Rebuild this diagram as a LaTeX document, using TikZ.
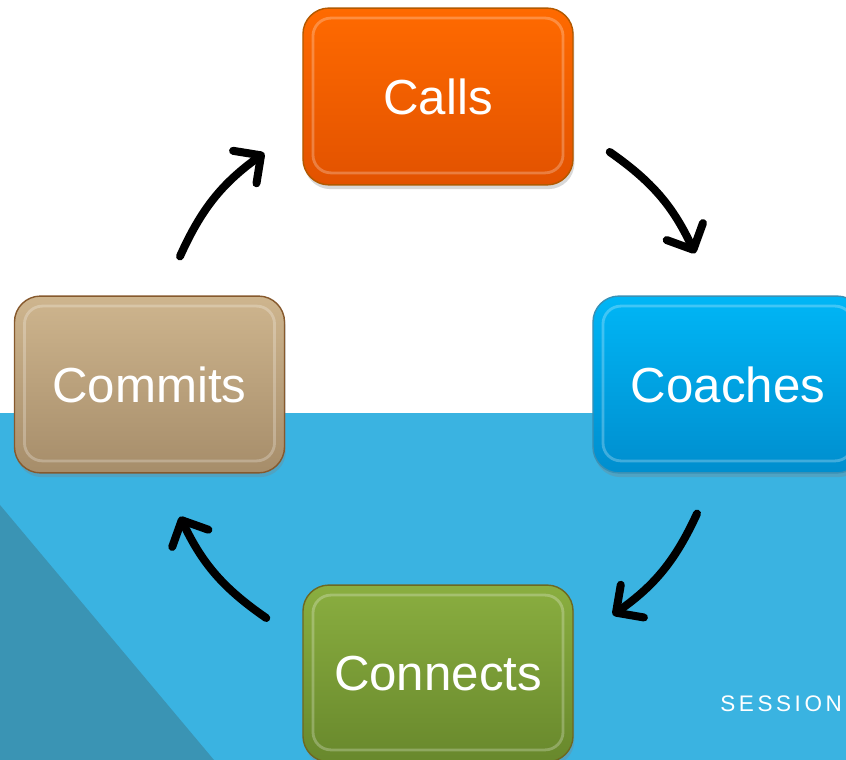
\documentclass[tikz,border=0pt]{standalone}
\usepackage{fontspec}
\setmainfont{Liberation Sans}
\usepackage{tikz}
\usetikzlibrary{arrows.meta,shadows}
\definecolor{bandblue}{HTML}{3AB3E1}
\definecolor{darkwedge}{HTML}{3A94B4}
\tikzset{
  box/.style={draw=#1!70!black, line width=1pt, rounded corners=0.65cm,
    minimum width=6.75cm, minimum height=4.42cm, text=white,
    font=\fontsize{35}{40}\selectfont,
    drop shadow={shadow xshift=1pt, shadow yshift=-3pt, opacity=0.3},
    path picture={\draw[white, opacity=0.25, line width=2pt, rounded corners=0.45cm]
      ([shift={(0.25cm,-0.25cm)}]path picture bounding box.north west) rectangle
      ([shift={(-0.25cm,0.3cm)}]path picture bounding box.south east);}},
  cyc/.style={line width=5.7pt, line cap=round,
    -{Straight Barb[length=5mm, width=10mm, round]}, bend left=15}
}
\begin{document}
\begin{tikzpicture}[x=0.025cm,y=0.025cm]
  \useasboundingbox (0,0) rectangle (846,760);
  \clip (0,0) rectangle (846,760);
  % background
  \fill[white] (0,0) rectangle (846,760);
  \fill[bandblue] (0,0) rectangle (846,347);
  \fill[darkwedge] (0,0) -- (0,255) -- (214,0) -- cycle;
  \node[text=white, anchor=base west, inner sep=0pt, font=\fontsize{16}{20}\selectfont\addfontfeature{LetterSpace=16}]
    (session) at (720,48) {SESSION};
  % boxes
  \node[box=orange, top color={rgb,255:red,255;green,106;blue,0}, bottom color={rgb,255:red,226;green,82;blue,0}]
    (calls) at (438,663.5) {Calls};
  \node[box=cyan, top color={rgb,255:red,0;green,182;blue,246}, bottom color={rgb,255:red,0;green,142;blue,206}]
    (coaches) at (728,375.5) {Coaches};
  \node[box=brown, top color={rgb,255:red,206;green,181;blue,142}, bottom color={rgb,255:red,166;green,141;blue,106}]
    (commits) at (149.5,375.5) {Commits};
  \node[box=olive, top color={rgb,255:red,138;green,174;blue,64}, bottom color={rgb,255:red,104;green,136;blue,44}]
    (connects) at (438,86.5) {Connects};
  % arrows
  \draw[cyc] ([shift={(30.5,39)}]commits.north) to ([shift={(-38,-56.5)}]calls.west);
  \draw[cyc] ([shift={(36,-55.5)}]calls.east) to ([shift={(-33,42)}]coaches.north);
  \draw[cyc] ([shift={(-31,-40)}]coaches.south) to ([shift={(39,58.5)}]connects.east);
  \draw[cyc] ([shift={(-36,55.5)}]connects.west) to ([shift={(30.5,-43)}]commits.south);
\end{tikzpicture}
\end{document}
